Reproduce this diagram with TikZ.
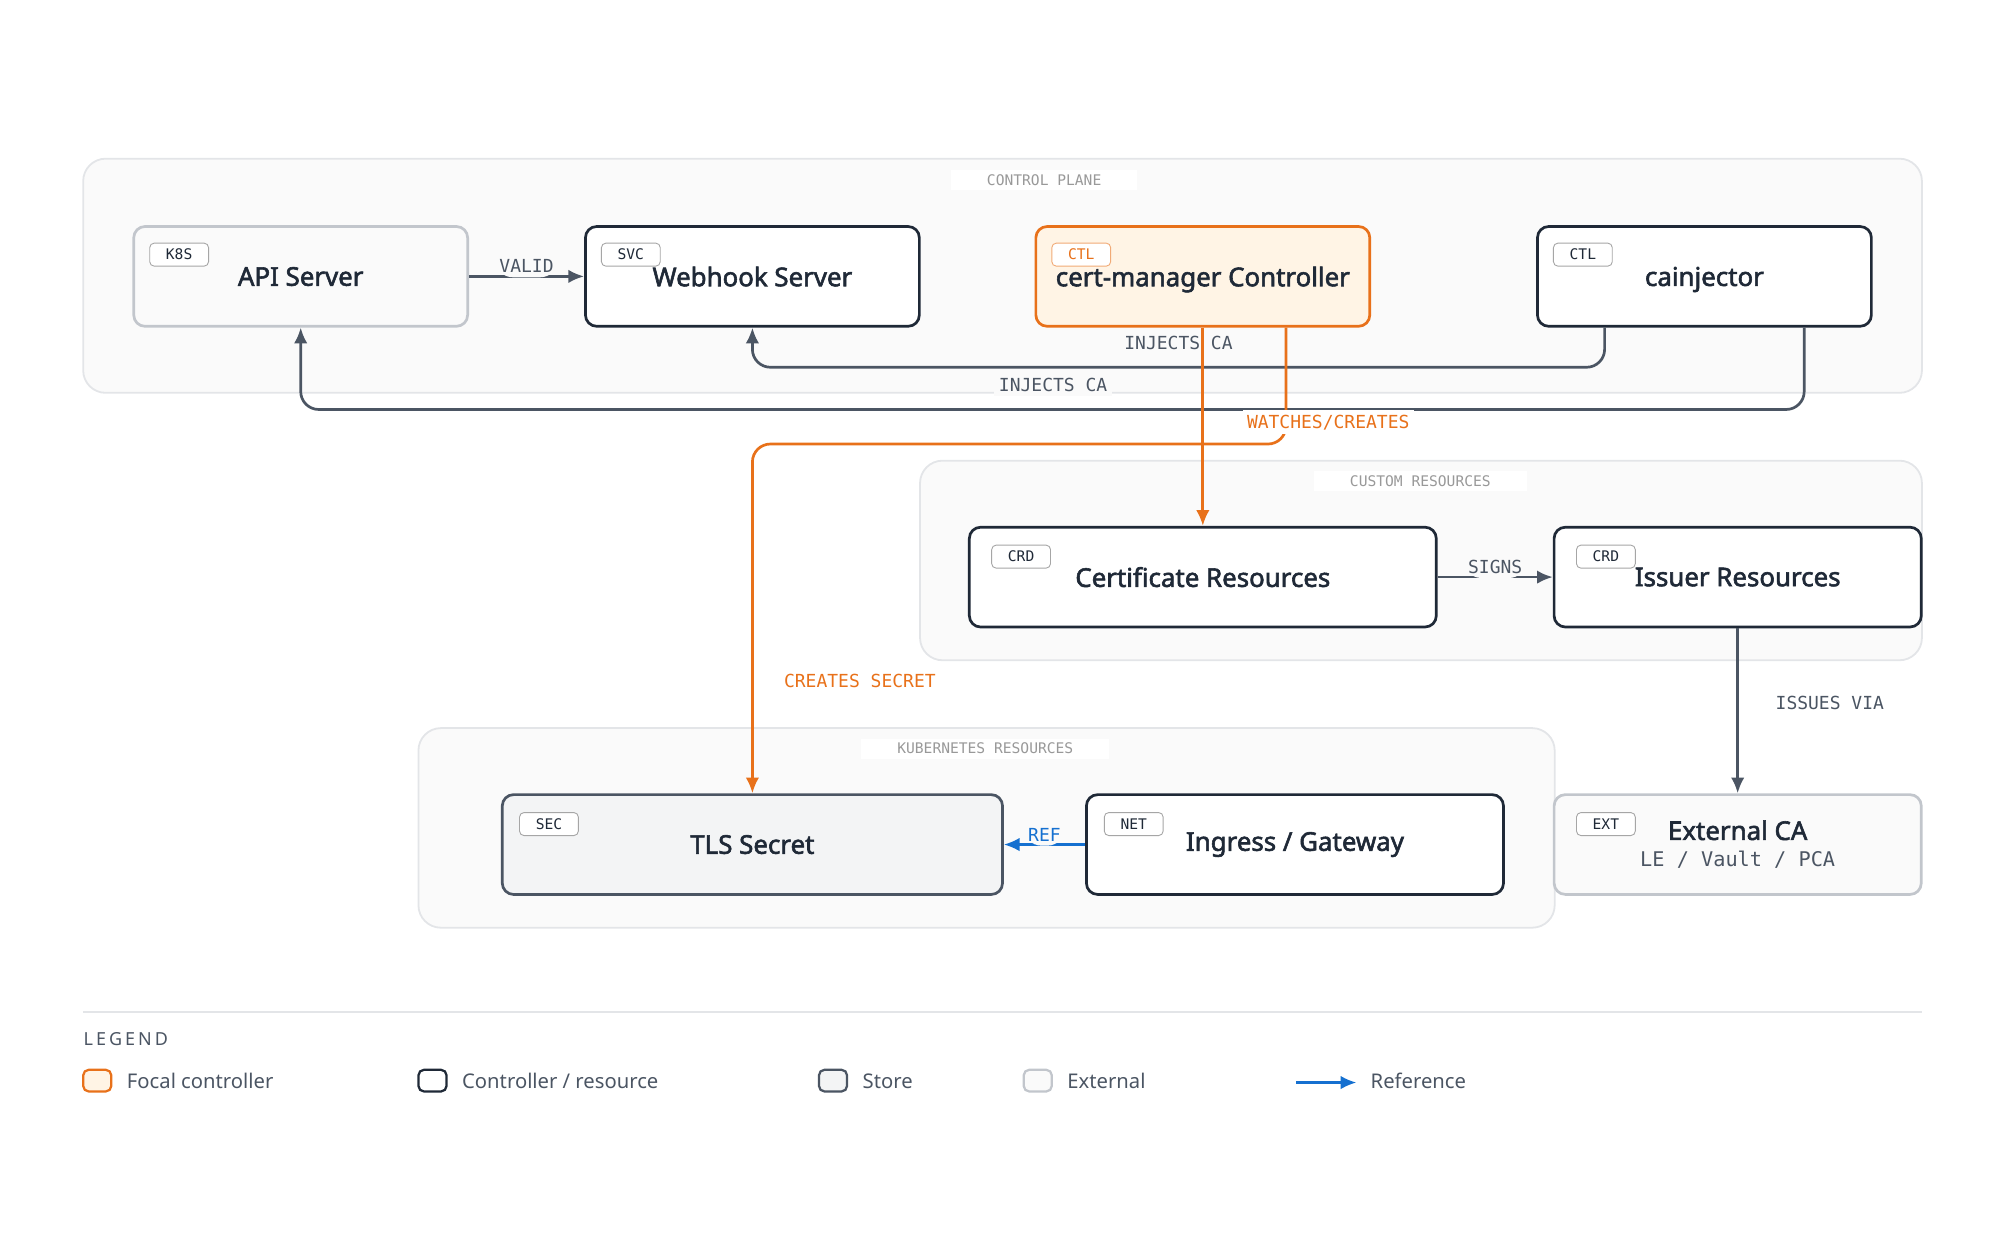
\documentclass[tikz,border=0pt]{standalone}
\usepackage{fontspec}
\setmainfont{Noto Sans}[BoldFont={Noto Sans}, BoldFeatures={FakeBold=2.2}]
\newfontfamily\monofont{DejaVu Sans Mono}
\usetikzlibrary{arrows.meta,calc}
\definecolor{ink}{HTML}{1F2937}
\definecolor{wire}{HTML}{4B5563}
\definecolor{focal}{HTML}{E8711A}
\definecolor{focalbg}{HTML}{FFF4E5}
\definecolor{refblue}{HTML}{1570D0}
\definecolor{extline}{HTML}{C2C6CC}
\definecolor{grpline}{HTML}{E3E5E8}
\definecolor{grpbg}{HTML}{FAFAFA}
\definecolor{storebg}{HTML}{F3F4F5}
\begin{document}
\begin{tikzpicture}[
		x=0.02cm, y=-0.02cm,
		group/.style={draw=grpline, fill=grpbg, rounded corners=10pt, line width=0.8pt},
		grouplabel/.style={fill=white, text=gray!80, font=\monofont\fontsize{6.5}{7}\selectfont, inner xsep=16pt, inner ysep=2pt},
		box/.style={rounded corners=5pt, line width=1.2pt, minimum height=1.56cm, font=\bfseries\fontsize{11.5}{13}\selectfont, text=ink},
		ctrl/.style={box, draw=ink, fill=white},
		focalbox/.style={box, draw=focal, fill=focalbg},
		store/.style={box, draw=wire, fill=storebg},
		ext/.style={box, draw=extline, fill=grpbg},
		tag/.style={draw=gray!70, fill=white, rounded corners=2pt, minimum width=0.92cm, minimum height=0.36cm, inner sep=0pt, font=\monofont\fontsize{6.5}{7}\selectfont, text=ink},
		link/.style={draw=wire, line width=1.2pt, rounded corners=8pt, -{Latex[length=7pt,width=6pt]}},
		elabel/.style={fill=white, inner sep=2pt, font=\monofont\fontsize{8}{9}\selectfont, text=wire},
		swatch/.style={line width=1pt, rounded corners=2.5pt},
	]
	\useasboundingbox (0,0) rectangle (1563,978);
	% groups
	\draw[group] (65,124) rectangle (1502,307);
	\node[grouplabel] (gcp) at (816,141) {CONTROL PLANE};
	\draw[group] (719,360) rectangle (1502,516);
	\node[grouplabel] (gcr) at (1110,376) {CUSTOM RESOURCES};
	\draw[group] (327,569) rectangle (1215,725);
	\node[grouplabel] (gkr) at (770,585) {KUBERNETES RESOURCES};

	% control plane
	\node[ext, minimum width=5.22cm, text depth=0pt] (api) at (235,216) {API Server};
	\node[ctrl, minimum width=5.22cm, text depth=-12pt] (web) at (588,216) {Webhook Server};
	\node[focalbox, minimum width=5.22cm, text depth=-12pt] (cm) at (940,216) {cert-manager Controller};
	\node[ctrl, minimum width=5.22cm, text depth=-12pt] (cai) at (1332,216) {cainjector};
	\node[tag] at (140,199) {K8S};
	\node[tag] at (493,199) {SVC};
	\node[tag, draw=focal!60, text=focal] at (845,199) {CTL};
	\node[tag] at (1237,199) {CTL};

	% custom resources
	\node[ctrl, minimum width=7.3cm] (cert) at (940,451) {Certificate Resources};
	\node[ctrl, minimum width=5.74cm] (iss) at (1358,451) {Issuer Resources};
	\node[tag] at (798,435) {CRD};
	\node[tag] at (1255,435) {CRD};

	% kubernetes resources
	\node[store, minimum width=7.82cm] (tls) at (588,660) {TLS Secret};
	\node[ctrl, minimum width=6.52cm] (ing) at (1012,660) {Ingress / Gateway};
	\node[ext, minimum width=5.74cm, align=center] (eca) at (1358,660) {External CA\\[-1pt]{\monofont\mdseries\fontsize{9}{11}\selectfont\color{wire} LE / Vault / PCA}};
	\node[tag] at (429,644) {SEC};
	\node[tag] at (886,644) {NET};
	\node[tag] at (1255,644) {EXT};

	% connectors
	\draw[link] (api.east) -- node[elabel, above=-1pt, fill=grpbg] {VALID} (web.west);
	\draw[link] ([xshift=-1.56cm]cai.south) |- (760,287) -| (web.south);
	\node[elabel, fill=grpbg] at (921,268) {INJECTS CA};
	\draw[link] ([xshift=1.56cm]cai.south) |- (600,320) -| (api.south);
	\node[elabel, fill=grpbg] at (823,301) {INJECTS CA};
	\draw[link, draw=focal] (cm.south) -- (cert.north);
	\draw[link, draw=focal] ([xshift=1.3cm]cm.south) |- (700,347) -| (tls.north);
	\node[elabel, text=focal] at (1038,330) {WATCHES/CREATES};
	\node[elabel, text=focal, fill=none] at (672,532) {CREATES SECRET};
	\draw[link] (cert.east) -- node[elabel, above=-1pt, fill=grpbg] {SIGNS} (iss.west);
	\draw[link] (iss.south) -- (eca.north);
	\node[elabel] at (1430,549) {ISSUES VIA};
	\draw[link, draw=refblue, line width=1pt] (ing.west) -- node[elabel, above=-1pt, text=refblue, fill=grpbg] {REF} (tls.east);

	% legend
	\draw[grpline, line width=1pt] (65,791) -- (1502,791);
	\node[anchor=west, inner sep=0pt, text=wire, font=\fontsize{8}{9}\selectfont] at (65,812) {L\,E\,G\,E\,N\,D};
	\foreach \n/\x/\d/\f/\t in {lf/65/focal/focalbg/{Focal controller},
		lc/327/ink/white/{Controller / resource},
		ls/640/wire/storebg/{Store},
		le/800/extline/grpbg/{External}}{
		\draw[swatch, draw=\d, fill=\f] (\x,836) rectangle ++(22,17);
		\node[anchor=west, text=wire, font=\fontsize{9}{11}\selectfont] (\n) at (\x+28,845) {\t};
	}
	\coordinate (rs) at (1013,846);
	\coordinate (re) at (1060,846);
	\draw[link, draw=refblue, line width=1pt] (rs) -- (re);
	\node[anchor=west, text=wire, font=\fontsize{9}{11}\selectfont] (lr) at (1065,845) {Reference};
\end{tikzpicture}
\end{document}
